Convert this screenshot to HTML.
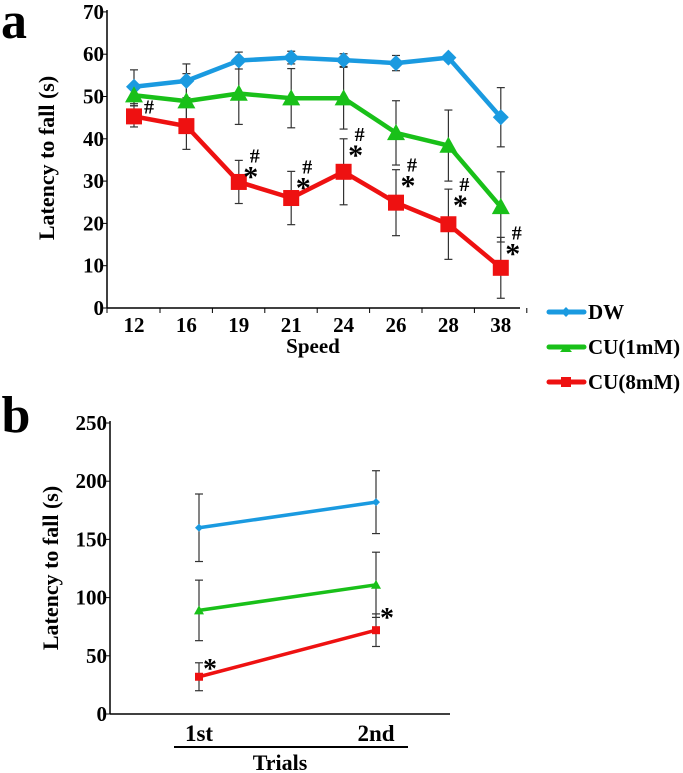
<!DOCTYPE html>
<html><head><meta charset="utf-8"><style>
html,body{margin:0;padding:0;background:#fff;}
svg{display:block;font-family:"Liberation Serif",serif;font-weight:bold;}
</style></head><body>
<svg id="chart" width="683" height="773" viewBox="0 0 683 773" xmlns="http://www.w3.org/2000/svg"></svg>
<script>
const speeds=["12","16","19","21","24","26","28","38"];
const dwA=[52.3,53.7,58.5,59.2,58.6,57.9,59.2,45.1];
const dwAErr=[4,4,2,1.5,1.5,1.8,0.5,7];
const cu1A=[50.3,48.9,50.7,49.6,49.6,41.4,38.4,23.9];
const cu1AErr=[2.5,6.5,7.3,7,7.3,7.6,8.4,8.3];
const cu8A=[45.3,43,29.8,26,32.2,24.9,19.8,9.5];
const cu8AErr=[2.5,5.5,5.1,6.3,7.8,7.8,8.3,7.2];
const yTicksA=[0,10,20,30,40,50,60,70];
const marksA=["#","","#*","#*","#*","#*","#*","#*"];
const trials=["1st","2nd"];
const dwB=[160,182];const dwBErr=[29,27];
const cu1B=[89,111];const cu1BErr=[26,28];
const cu8B=[32,72];const cu8BErr=[12,14];
const yTicksB=[0,50,100,150,200,250];
const marksB=["*","*"];

const svg=document.getElementById('chart');
const NS="http://www.w3.org/2000/svg";
function mk(tag,attrs,parent){const e=document.createElementNS(NS,tag);for(const k in attrs)e.setAttribute(k,attrs[k]);(parent||svg).appendChild(e);return e;}
function txt(x,y,s,size,anchor,parent){const t=mk('text',{x:x,y:y,'font-size':size,'text-anchor':anchor||'middle'},parent);t.textContent=s;return t;}
const BLUE="#1a9ae0",GREEN="#19c019",RED="#ee1111";

// Panel a
const xA=i=>134+i*52.4;
const yA=v=>308-v*4.23;
const ga=mk('g',{});


const la=txt(14,38,"a",52,'middle',ga);
mk('line',{x1:107,y1:10,x2:107,y2:308,stroke:'#000','stroke-width':1.5},ga);
mk('line',{x1:107,y1:308,x2:520,y2:308,stroke:'#000','stroke-width':1.5},ga);
yTicksA.forEach(v=>{mk('line',{x1:103,y1:yA(v),x2:107,y2:yA(v),stroke:'#000'},ga);const t=txt(104,yA(v)+7,String(v),21,'end',ga);});
speeds.forEach((s,i)=>{mk('line',{x1:xA(i)+26,y1:308,x2:xA(i)+26,y2:313,stroke:'#000'},ga);const t=txt(xA(i),332,s,21,'middle',ga);});
mk('line',{x1:107,y1:308,x2:107,y2:313,stroke:'#000'},ga);
const xt=txt(313,353,"Speed",21,'middle',ga);
const yt=txt(0,0,"Latency to fall (s)",22,'middle',ga);yt.setAttribute('transform','translate(54,158) rotate(-90)');
function errs(vals,er,xf,yf,g){vals.forEach((v,i)=>{const x=xf(i);mk('line',{x1:x,y1:yf(v-er[i]),x2:x,y2:yf(v+er[i]),stroke:'#333','stroke-width':1.2},g);[v-er[i],v+er[i]].forEach(w=>mk('line',{x1:x-4,y1:yf(w),x2:x+4,y2:yf(w),stroke:'#333','stroke-width':1.2},g));});}
function series(vals,xf,yf,color,shape,sz,lw,g,name){
  const pl=mk('polyline',{points:vals.map((v,i)=>xf(i)+','+yf(v)).join(' '),fill:'none',stroke:color,'stroke-width':lw,'stroke-linejoin':'round'},g);
  
  
  vals.forEach((v,i)=>{const x=xf(i),y=yf(v);let m;
    if(shape==='d')m=mk('polygon',{points:`${x},${y-sz} ${x+sz},${y} ${x},${y+sz} ${x-sz},${y}`,fill:color},g);
    else if(shape==='t')m=mk('polygon',{points:`${x},${y-sz} ${x+sz},${y+sz*0.8} ${x-sz},${y+sz*0.8}`,fill:color},g);
    else m=mk('rect',{x:x-sz,y:y-sz,width:2*sz,height:2*sz,fill:color},g);
    
    });
}
errs(dwA,dwAErr,xA,yA,ga);errs(cu1A,cu1AErr,xA,yA,ga);errs(cu8A,cu8AErr,xA,yA,ga);
series(dwA,xA,yA,BLUE,'d',8,4.5,ga,'dw');
series(cu1A,xA,yA,GREEN,'t',9,4.5,ga,'cu1');
series(cu8A,xA,yA,RED,'s',8,4.5,ga,'cu8');
marksA.forEach((m,i)=>{if(!m)return;const x=xA(i)+12;const top=yA(cu8A[i]+cu8AErr[i]);
  if(m==='#'){const t=txt(x+3,yA(cu8A[i])-3,"#",20,'middle',ga);}
  else{const h=txt(x+4,top+2,"#",20,'middle',ga);
  const s=txt(x,top+26,"*",30,'middle',ga);}});

// Legend
const leg=[["DW",BLUE,'d'],["CU(1mM)",GREEN,'t'],["CU(8mM)",RED,'s']];
leg.forEach((l,i)=>{const y=312+i*35;const g=mk('g',{});
  
  
  mk('line',{x1:549,y1:y,x2:584,y2:y,stroke:l[1],'stroke-width':5,'stroke-linecap':'round'},g);
  if(l[2]==='d')mk('polygon',{points:`566,${y-5} 571,${y} 566,${y+5} 561,${y}`,fill:l[1]},g);
  else if(l[2]==='t')mk('polygon',{points:`566,${y-2} 572,${y+5} 560,${y+5}`,fill:l[1]},g);
  else mk('rect',{x:561,y:y-5,width:10,height:10,fill:l[1]},g);
  txt(588,y+7,l[0],21,'start',g);});

// Panel b
const xB=i=>199+i*177;
const yB=v=>714-v*1.164;
const gb=mk('g',{});


const lb=txt(16,432,"b",52,'middle',gb);
mk('line',{x1:110,y1:421,x2:110,y2:714,stroke:'#000','stroke-width':1.5},gb);
mk('line',{x1:110,y1:714,x2:450,y2:714,stroke:'#000','stroke-width':1.5},gb);
yTicksB.forEach(v=>{mk('line',{x1:106,y1:yB(v),x2:110,y2:yB(v),stroke:'#000'},gb);const t=txt(107,yB(v)+7,String(v),21,'end',gb);});
trials.forEach((s,i)=>{const t=txt(xB(i),741,s,23,'middle',gb);});
mk('line',{x1:174,y1:747,x2:408,y2:747,stroke:'#000','stroke-width':2},gb);
const xtb=txt(280,770,"Trials",22,'middle',gb);
const ytb=txt(0,0,"Latency to fall (s)",22,'middle',gb);ytb.setAttribute('transform','translate(58,568) rotate(-90)');
errs(dwB,dwBErr,xB,yB,gb);errs(cu1B,cu1BErr,xB,yB,gb);errs(cu8B,cu8BErr,xB,yB,gb);
series(dwB,xB,yB,BLUE,'d',4,3.5,gb,'dw-b');
series(cu1B,xB,yB,GREEN,'t',5,3.5,gb,'cu1-b');
series(cu8B,xB,yB,RED,'s',4,3.5,gb,'cu8-b');
marksB.forEach((m,i)=>{const t=txt(xB(i)+11,yB(cu8B[i])+(i?-3:1),m,28,'middle',gb);});
</script>
</body></html>
